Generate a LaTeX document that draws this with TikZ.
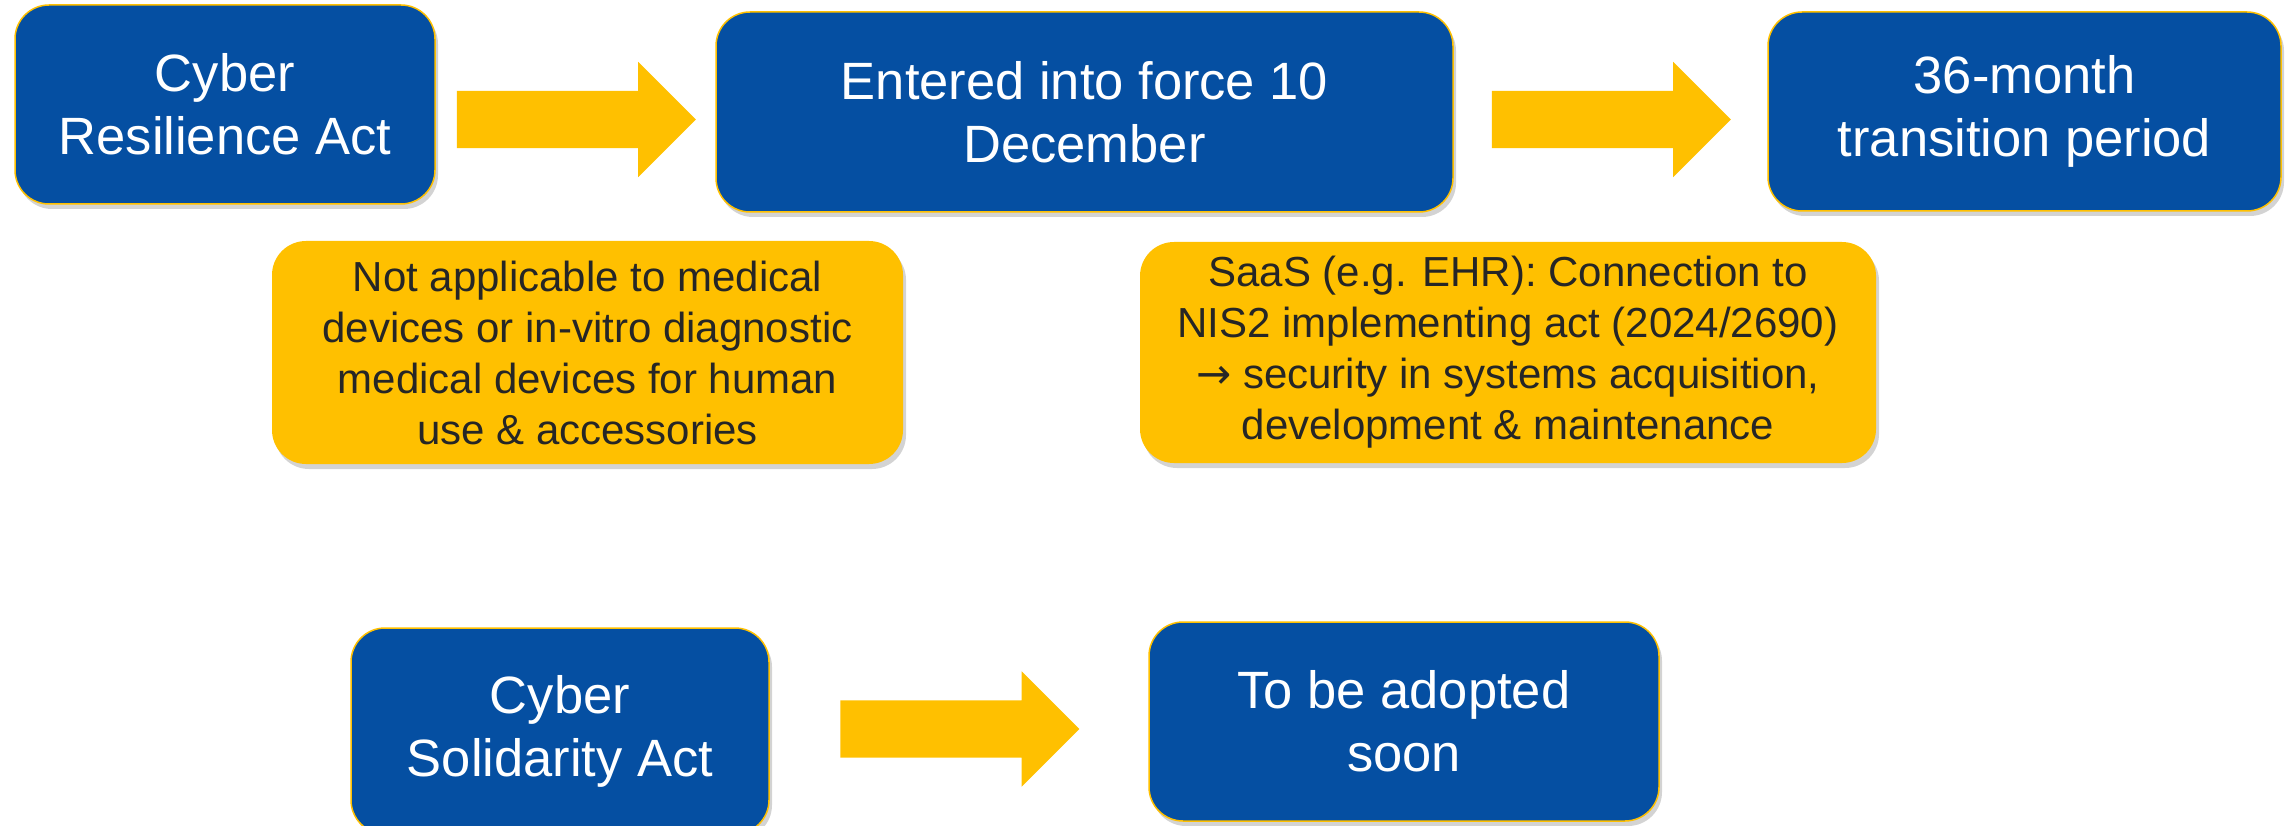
\documentclass[tikz,border=0pt]{standalone}
\usepackage{fontspec}
\setmainfont{Liberation Sans}
\newfontfamily\symfont{DejaVu Sans}
\usetikzlibrary{shapes,arrows,shadows}
\definecolor{actblue}{RGB}{5,79,162}
\definecolor{actgold}{RGB}{255,192,0}
\definecolor{notegray}{RGB}{38,38,38}
\begin{document}
\begin{tikzpicture}[x=1pt,y=-1pt,
    act/.style={rectangle, rounded corners=34pt, fill=actblue, draw=actgold, line width=1.5pt,
      text=white, align=center, inner sep=0pt, font=\fontsize{52.5}{63}\selectfont,
      drop shadow={shadow xshift=3pt, shadow yshift=-5pt, opacity=0.35}},
    note/.style={rectangle, rounded corners=34pt, fill=actgold, text=notegray, align=center,
      inner sep=0pt, font=\fontsize{42}{51}\selectfont,
      drop shadow={shadow xshift=3pt, shadow yshift=-5pt, opacity=0.35}},
    flow/.style={single arrow, fill=actgold, inner xsep=0pt, inner ysep=28.5pt,
      minimum height=239pt, minimum width=115pt, single arrow head extend=29pt,
      single arrow tip angle=90}]
  \useasboundingbox (0,0) rectangle (2290,826);
  % resilience act row
  \node[act, minimum width=420pt, minimum height=199pt] (cra) at (225,104.5) {Cyber\\Resilience Act};
  \node[act, minimum width=737pt, minimum height=200pt] (force) at (1084.5,112) {Entered into force 10\\December};
  \node[act, minimum width=513pt, minimum height=199pt] (trans) at (2024.5,111.5) {36-month\\transition period};
  \node[flow] (a1) at (562,119.5) {};
  \node[flow] (a2) at (1597,119.5) {};
  % notes under the row
  \node[note, minimum width=631pt, minimum height=223pt] (med) at (587.5,352.5)
    {Not applicable to medical\\devices or in-vitro diagnostic\\medical devices for human\\use \& accessories};
  \node[note, minimum width=736pt, minimum height=221pt] (saas) at (1508,352.5)
    {SaaS (e.g. EHR): Connection to\\NIS2 implementing act (2024/2690)\\{\symfont →} security in systems acquisition,\\development \& maintenance};
  % solidarity act row
  \node[act, minimum width=418pt, minimum height=206pt] (csa) at (560,731) {Cyber\\Solidarity Act};
  \node[act, minimum width=510pt, minimum height=199pt] (adopt) at (1404,721.5) {To be adopted\\soon};
  \node[flow] (a3) at (945.5,729) {};
\end{tikzpicture}
\end{document}
